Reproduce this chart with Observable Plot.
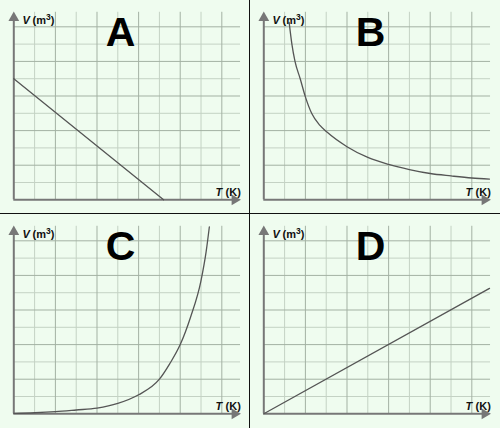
<!DOCTYPE html>
<html>
<head>
<meta charset="utf-8">
<script src="https://cdn.jsdelivr.net/npm/d3@7"></script>
<script src="https://cdn.jsdelivr.net/npm/@observablehq/plot@0.6"></script>
<style>
  html, body { margin: 0; padding: 0; background: #effcef; }
  #wrap { position: relative; width: 500px; height: 428px; overflow: hidden; background: #effcef; }
  .panel { position: absolute; width: 249px; height: 213px; }
  .sep { position: absolute; background: #111; }
</style>
</head>
<body>
<div id="wrap"></div>
<script>
// Grid ticks (one unit per minor cell)
const gridT = [1, 2, 3, 4, 5, 6, 7, 8, 9, 10];
const gridV = [1, 2, 3, 4, 5, 6, 7, 8, 9, 10];

// Panel letters
const letters = ["A", "B", "C", "D"];

// Panel A: V decreases linearly with T
const aT = [0, 7.2];
const aV = [7.0, 0];

// Panel B: V inversely proportional to T
const bT = [1.22, 1.35, 1.5, 1.75, 2, 2.3, 2.7, 3.05, 4, 5, 6, 7, 8, 9, 10, 10.85];
const bV = [10.25, 9.0, 8.0, 7.0, 5.95, 5.0, 4.3, 3.9, 3.07, 2.45, 2.05, 1.75, 1.52, 1.38, 1.26, 1.2];

// Panel C: V rises steeply with T
const cT = [0, 1, 2, 3, 4, 5, 6, 7, 7.5, 8, 8.5, 9, 9.25, 9.4];
const cV = [0.03, 0.06, 0.12, 0.22, 0.33, 0.6, 1.1, 2.0, 2.9, 4.0, 5.6, 7.7, 9.4, 10.8];

// Panel D: V directly proportional to T
const dT = [0, 10.85];
const dV = [0, 7.25];

const series = [[aT, aV], [bT, bV], [cT, cV], [dT, dV]];
const offsets = [[0, 0], [250, 0], [0, 214], [250, 214]];

const FONT = "'Liberation Sans', Arial, Helvetica, sans-serif";
const wrap = document.getElementById("wrap");

function makePanel(letter, T, V) {
  const pts = T.map((t, i) => ({T: t, V: V[i]}));
  const xMax = 10.85, yMax = 10.77;
  const svg = Plot.plot({
    width: 249,
    height: 213,
    marginLeft: 13.3,
    marginRight: 10,
    marginTop: 13,
    marginBottom: 13.7,
    style: {background: "transparent", fontFamily: FONT, overflow: "visible"},
    x: {domain: [0, xMax], axis: null},
    y: {domain: [0, yMax], axis: null},
    marks: [
      // minor grid
      Plot.ruleX(gridT.filter(d => d % 2 === 1), {y1: 0, y2: 10.84, stroke: "#c4d2c4", strokeWidth: 1}),
      Plot.ruleY(gridV.filter(d => d % 2 === 1), {x1: 0, x2: 10.9, stroke: "#c4d2c4", strokeWidth: 1}),
      // major grid
      Plot.ruleX(gridT.filter(d => d % 2 === 0), {y1: 0, y2: 10.84, stroke: "#a3b1a3", strokeWidth: 1}),
      Plot.ruleY(gridV.filter(d => d % 2 === 0), {x1: 0, x2: 10.9, stroke: "#a3b1a3", strokeWidth: 1}),
      // axes with arrowheads
      Plot.ruleX([0], {y1: 0, y2: 10.5, stroke: "#777", strokeWidth: 2}),
      Plot.ruleY([0], {x1: 0, x2: 10.6, stroke: "#777", strokeWidth: 2}),
      Plot.dot([0], {x: 0, y: 10.52, symbol: "triangle", r: 4, fill: "#777", stroke: "none"}),
      Plot.dot([0], {x: 10.62, y: 0, symbol: "triangle", r: 4, fill: "#777", stroke: "none", rotate: 90}),
      // curve
      Plot.line(pts, {x: "T", y: "V", stroke: "#555", strokeWidth: 1.3, curve: "monotone-x"}),
      // axis labels
      Plot.text(["V"], {x: 0.42, y: 10.36, text: d => d, textAnchor: "start", fontSize: 11, fontWeight: "bold", fontStyle: "italic", fill: "#111"}),
      Plot.text(["(m3)"], {x: 0.9, y: 10.36, text: d => d, textAnchor: "start", fontSize: 11, fontWeight: "bold", fill: "#111", className: "vunit"}),
      Plot.text(["T"], {x: 9.7, y: 0.4, text: d => d, textAnchor: "start", fontSize: 11, fontWeight: "bold", fontStyle: "italic", fill: "#111"}),
      Plot.text(["(K)"], {x: 10.18, y: 0.4, text: d => d, textAnchor: "start", fontSize: 11, fontWeight: "bold", fill: "#111"}),
      // panel letter
      Plot.text([letter], {x: 5.13, y: 9.64, text: d => d, fontSize: 41, fontWeight: "bold", fill: "#000"})
    ]
  });
  // superscript for the unit
  d3.select(svg).selectAll("g.vunit text").each(function() {
    const t = d3.select(this);
    t.text("");
    t.append("tspan").text("(m");
    t.append("tspan").attr("dy", "-4").attr("font-size", "8.5").text("3");
    t.append("tspan").attr("dy", "4").text(")");
  });
  return svg;
}

letters.forEach((L, i) => {
  const div = document.createElement("div");
  div.className = "panel";
  div.style.left = offsets[i][0] + "px";
  div.style.top = offsets[i][1] + "px";
  div.appendChild(makePanel(L, series[i][0], series[i][1]));
  wrap.appendChild(div);
});

// separators
const v = document.createElement("div");
v.className = "sep";
v.style.left = "248.5px"; v.style.top = "0px"; v.style.width = "1.2px"; v.style.height = "428px";
wrap.appendChild(v);
const h = document.createElement("div");
h.className = "sep";
h.style.left = "0px"; h.style.top = "212.8px"; h.style.width = "500px"; h.style.height = "1.2px";
wrap.appendChild(h);
</script>
</body>
</html>
